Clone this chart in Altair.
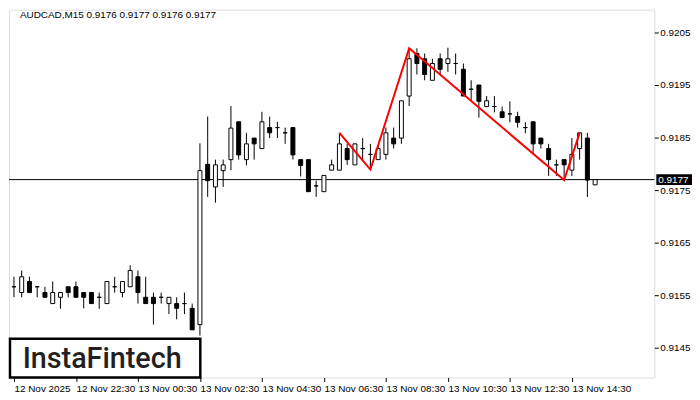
import altair as alt
import pandas as pd

# ---- data (AUDCAD M15, bars from 12 Nov 20:30) ----
opens = [0.91566, 0.91555, 0.91576, 0.91566, 0.91555, 0.91534, 0.91546, 0.91566, 0.91566, 0.91555,
         0.91555, 0.91546, 0.91534, 0.91566, 0.91555, 0.91566, 0.91585, 0.91546, 0.91546, 0.91546,
         0.91534, 0.91534, 0.91534, 0.91525, 0.91494, 0.91799, 0.91756, 0.91787, 0.91808, 0.91880,
         0.91808, 0.91849, 0.91829, 0.91869, 0.91869, 0.91859, 0.91869, 0.91808, 0.91808, 0.91758,
         0.91747, 0.91788, 0.91788, 0.91829, 0.91798, 0.91829, 0.91818, 0.91808, 0.91818, 0.91849,
         0.91849, 0.91929, 0.92010, 0.92000, 0.91959, 0.92000, 0.91991, 0.91991, 0.91980, 0.91942,
         0.91950, 0.91909, 0.91909, 0.91899, 0.91895, 0.91890, 0.91869, 0.91880, 0.91849, 0.91829,
         0.91798, 0.91808, 0.91788, 0.91829, 0.91849, 0.91760]
highs = [0.91585, 0.91597, 0.91585, 0.91566, 0.91566, 0.91576, 0.91555, 0.91566, 0.91576, 0.91555,
         0.91555, 0.91555, 0.91576, 0.91585, 0.91576, 0.91607, 0.91597, 0.91585, 0.91555, 0.91555,
         0.91546, 0.91546, 0.91555, 0.91534, 0.91839, 0.91890, 0.91808, 0.91808, 0.91910, 0.91880,
         0.91859, 0.91849, 0.91899, 0.91890, 0.91880, 0.91869, 0.91869, 0.91808, 0.91808, 0.91768,
         0.91778, 0.91808, 0.91859, 0.91838, 0.91838, 0.91849, 0.91838, 0.91833, 0.91869, 0.91869,
         0.91920, 0.92020, 0.92020, 0.92010, 0.92000, 0.92010, 0.92021, 0.92010, 0.91991, 0.91959,
         0.91950, 0.91929, 0.91929, 0.91909, 0.91919, 0.91899, 0.91879, 0.91880, 0.91849, 0.91838,
         0.91808, 0.91808, 0.91849, 0.91859, 0.91859, 0.91770]
lows = [0.91546, 0.91546, 0.91555, 0.91546, 0.91546, 0.91534, 0.91524, 0.91546, 0.91546, 0.91525,
        0.91534, 0.91524, 0.91534, 0.91555, 0.91546, 0.91566, 0.91534, 0.91534, 0.91494, 0.91534,
        0.91514, 0.91504, 0.91514, 0.91484, 0.91473, 0.91737, 0.91726, 0.91756, 0.91788, 0.91808,
        0.91797, 0.91808, 0.91829, 0.91849, 0.91849, 0.91838, 0.91808, 0.91776, 0.91747, 0.91737,
        0.91747, 0.91788, 0.91788, 0.91798, 0.91798, 0.91808, 0.91788, 0.91808, 0.91808, 0.91829,
        0.91838, 0.91910, 0.91970, 0.91959, 0.91959, 0.91970, 0.91975, 0.91970, 0.91929, 0.91919,
        0.91888, 0.91909, 0.91898, 0.91888, 0.91879, 0.91869, 0.91858, 0.91820, 0.91829, 0.91777,
        0.91777, 0.91769, 0.91777, 0.91808, 0.91737, 0.91760]
closes = [0.91566, 0.91585, 0.91555, 0.91566, 0.91546, 0.91555, 0.91555, 0.91555, 0.91546, 0.91546,
          0.91534, 0.91546, 0.91576, 0.91566, 0.91576, 0.91597, 0.91555, 0.91534, 0.91534, 0.91546,
          0.91546, 0.91525, 0.91534, 0.91484, 0.91787, 0.91768, 0.91798, 0.91798, 0.91868, 0.91817,
          0.91838, 0.91838, 0.91880, 0.91859, 0.91869, 0.91859, 0.91817, 0.91797, 0.91747, 0.91758,
          0.91778, 0.91798, 0.91838, 0.91808, 0.91838, 0.91829, 0.91818, 0.91829, 0.91859, 0.91838,
          0.91920, 0.92000, 0.91991, 0.91970, 0.91991, 0.91980, 0.92000, 0.91991, 0.91929, 0.91942,
          0.91919, 0.91920, 0.91909, 0.91888, 0.91895, 0.91879, 0.91869, 0.91838, 0.91838, 0.91808,
          0.91798, 0.91798, 0.91818, 0.91859, 0.91769, 0.91770]

# head & shoulders outline (bar index, price)
pattern_idx = [42, 46, 51, 71, 73]
pattern_price = [0.91859, 0.91789, 0.92020, 0.91769, 0.91859]

current_price = 0.9177
header = "AUDCAD,M15  0.9176 0.9177 0.9176 0.9177"
y_ticks = [0.9145, 0.9155, 0.9165, 0.9175, 0.9185, 0.9195, 0.9205]
x_tick_bars = [0, 8, 16, 24, 32, 40, 48, 56, 64, 72]
x_tick_labels = ["12 Nov 2025", "12 Nov 22:30", "13 Nov 00:30", "13 Nov 02:30", "13 Nov 04:30",
                 "13 Nov 06:30", "13 Nov 08:30", "13 Nov 10:30", "13 Nov 12:30", "13 Nov 14:30"]

df = pd.DataFrame({"i": list(range(len(opens))), "open": opens, "high": highs,
                   "low": lows, "close": closes})
df["dir"] = ["up" if c >= o else "down" for o, c in zip(opens, closes)]
pat = pd.DataFrame({"i": pattern_idx, "p": pattern_price})
cur = pd.DataFrame({"p": [current_price], "label": [f"{current_price:.4f}"]})

W, H = 651, 371
FONT = "Liberation Sans"
xs = alt.Scale(domain=[0, 82], nice=False, zero=False)
ys = alt.Scale(domain=[0.913934, 0.920934], nice=False, zero=False)

label_js = "[" + ",".join(f'"{t}"' for t in x_tick_labels) + "]"
x_axis = alt.Axis(values=x_tick_bars, labelExpr=f"{label_js}[round(datum.value/8)]",
                  orient="bottom", grid=False, domain=False, tickSize=4, tickColor="black",
                  labelAlign="left", labelPadding=2, labelFontSize=10, labelFont=FONT,
                  labelColor="black", title=None, labelOverlap=False, labelFlush=False)
y_axis = alt.Axis(values=y_ticks, format=".4f", orient="right", grid=False, domain=False,
                  tickSize=4, tickColor="black", labelPadding=1.5, labelFontSize=10,
                  labelFont=FONT, labelColor="black", title=None, labelOverlap=False)

base = alt.Chart(df)
wicks = base.mark_rule(color="black", strokeWidth=1, clip=True).encode(
    x=alt.X("i:Q", scale=xs, axis=x_axis),
    y=alt.Y("low:Q", scale=ys, axis=y_axis),
    y2="high:Q",
)
bodies = base.mark_bar(width=4, stroke="black", strokeWidth=1, clip=True).encode(
    x=alt.X("i:Q", scale=xs),
    y=alt.Y("open:Q", scale=ys),
    y2="close:Q",
    fill=alt.Fill("dir:N", scale=alt.Scale(domain=["up", "down"], range=["white", "black"]),
                  legend=None),
)
price_line = alt.Chart(cur).mark_rule(color="black", strokeWidth=1).encode(
    y=alt.Y("p:Q", scale=ys))
zigzag = alt.Chart(pat).mark_line(color="#ff0000", strokeWidth=2, clip=True).encode(
    x=alt.X("i:Q", scale=xs), y=alt.Y("p:Q", scale=ys), order="i:Q")

box_path = "M-1,-0.3056L1,-0.3056L1,0.3056L-1,0.3056Z"
price_box = alt.Chart(cur).mark_point(shape=box_path, size=1296, filled=True, color="black",
                                      opacity=1, strokeWidth=0).encode(
    x=alt.value(W + 20), y=alt.Y("p:Q", scale=ys))
price_text = alt.Chart(cur).mark_text(align="left", baseline="middle", color="white",
                                      fontSize=10, font=FONT).encode(
    x=alt.value(W + 4), y=alt.Y("p:Q", scale=ys), text="label:N")

header_text = alt.Chart(cur).mark_text(align="left", baseline="top", color="black",
                                       fontSize=10, font=FONT).encode(
    x=alt.value(11), y=alt.value(0), text=alt.value(header))

logo_box = alt.Chart(cur).mark_rect(fill="white", stroke="black", strokeWidth=2.5).encode(
    x=alt.value(1), x2=alt.value(193), y=alt.value(332), y2=alt.value(371))
logo_text = alt.Chart(cur).mark_text(align="center", baseline="middle", color="#231f20",
                                     fontSize=29, font="Roboto", fontWeight=500).encode(
    x=alt.value(94), y=alt.value(352), text=alt.value("InstaFintech"))

chart = alt.layer(price_line, wicks, bodies, zigzag, logo_box, logo_text, header_text,
                  price_box, price_text).properties(
    width=W, height=H, padding={"left": 0, "top": 0, "right": 0, "bottom": 0}
).configure_view(stroke="black", strokeWidth=1).configure(background="white")

chart.save("out.html", embed_options={"renderer": "svg", "actions": False})
